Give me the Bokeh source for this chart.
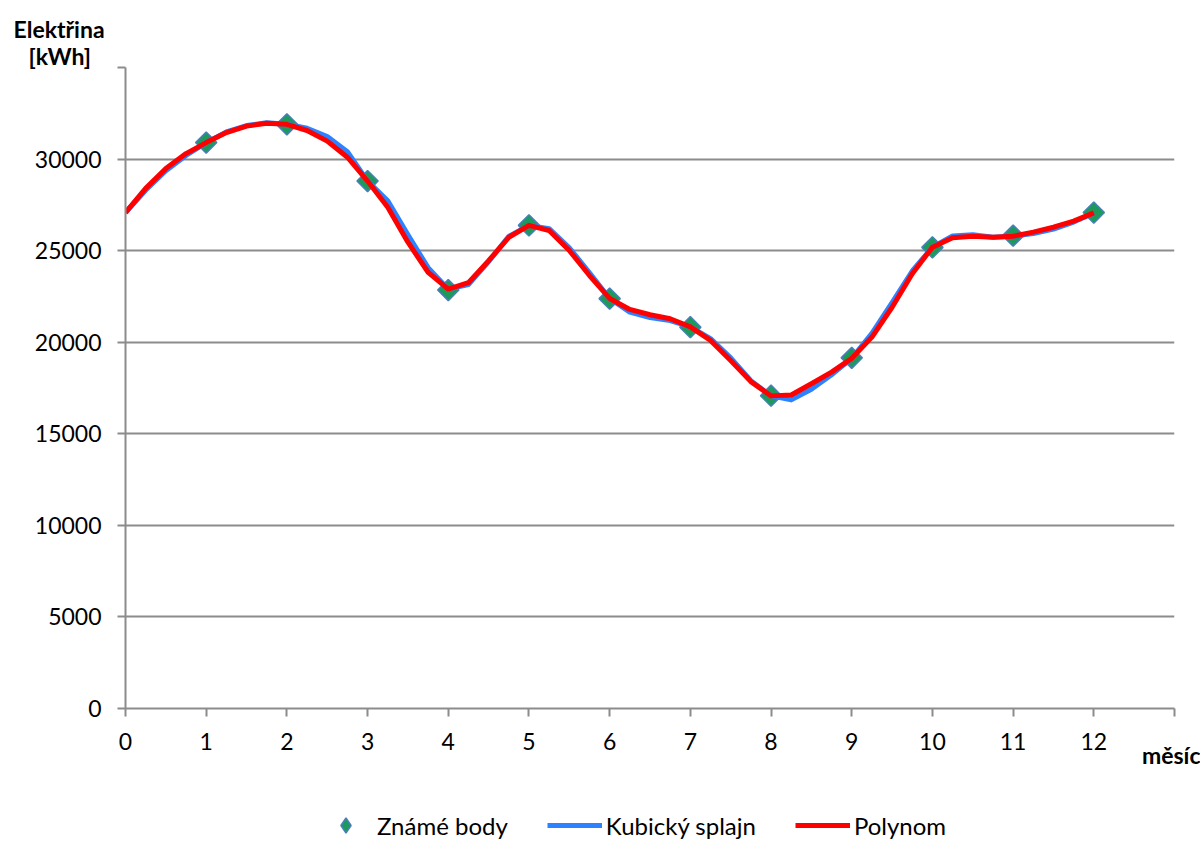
import math
from bokeh.plotting import figure
from bokeh.models import Range1d, FixedTicker, Legend, LegendItem, Title
from bokeh.layouts import column
from bokeh.embed import file_html
from bokeh.resources import INLINE

# Known points (month, kWh)
months = [1, 2, 3, 4, 5, 6, 7, 8, 9, 10, 11, 12]
known_kwh = [30900, 31900, 28800, 22850, 26380, 22380, 20820, 17080, 19150, 25180, 25820, 27080]

# Curves at quarter-month steps
curve_x = [0, 0.25, 0.5, 0.75, 1, 1.25, 1.5, 1.75, 2, 2.25, 2.5, 2.75, 3, 3.25, 3.5, 3.75,
           4, 4.25, 4.5, 4.75, 5, 5.25, 5.5, 5.75, 6, 6.25, 6.5, 6.75, 7, 7.25, 7.5, 7.75,
           8, 8.25, 8.5, 8.75, 9, 9.25, 9.5, 9.75, 10, 10.25, 10.5, 10.75, 11, 11.25, 11.5, 11.75, 12]
poly_kwh = [27080, 28400, 29480, 30300, 30900, 31450, 31800, 31960, 31900, 31560, 30980, 30100,
            28800, 27370, 25460, 23820, 22900, 23250, 24450, 25730, 26380, 26100, 25010, 23640,
            22390, 21790, 21500, 21280, 20840, 20100, 19000, 17850, 17070, 17120, 17730, 18370,
            19120, 20280, 21910, 23740, 25190, 25700, 25790, 25730, 25790, 26010, 26280, 26610, 27060]
spline_kwh = [27080, 28300, 29360, 30200, 30900, 31480, 31830, 31980, 31900, 31680, 31230, 30400,
              28800, 27720, 25860, 24070, 22900, 23150, 24400, 25780, 26380, 26200, 25160, 23790,
              22390, 21640, 21350, 21180, 20840, 20200, 19150, 17900, 17070, 16850, 17430, 18220,
              19120, 20480, 22160, 23890, 25190, 25800, 25870, 25730, 25790, 25930, 26180, 26560, 27060]

x_ticks = list(range(0, 14))
y_ticks = list(range(0, 35001, 5000))

FONT = "Lato"
GRAY = "#8c8c8c"
PT_FILL = "#1b9a5c"
PT_LINE = "#4a7ebb"
SPL_COLOR = "#2d83ff"
POL_COLOR = "#ff0000"

p = figure(width=1200, height=808, output_backend="svg", toolbar_location=None,
           x_range=Range1d(0, 13), y_range=Range1d(0, 35000),
           min_border_left=125, min_border_right=26, min_border_top=67, min_border_bottom=100)
p.outline_line_color = None
p.background_fill_color = "white"
p.border_fill_color = "white"

# grid
p.xgrid.grid_line_color = None
p.ygrid.grid_line_color = GRAY
p.ygrid.grid_line_width = 2
p.ygrid.ticker = FixedTicker(ticks=y_ticks)

# axes
for ax in (p.xaxis[0], p.yaxis[0]):
    ax.axis_line_color = GRAY
    ax.axis_line_width = 2
    ax.major_tick_line_color = GRAY
    ax.major_tick_line_width = 2
    ax.major_tick_out = 8
    ax.major_tick_in = 0
    ax.minor_tick_line_color = None
    ax.major_label_text_font = FONT
    ax.major_label_text_font_size = "23px"
    ax.major_label_text_color = "black"
p.xaxis.ticker = FixedTicker(ticks=x_ticks)
p.xaxis.major_label_overrides = {13: ""}
p.xaxis.major_label_standoff = 16
p.yaxis.ticker = FixedTicker(ticks=y_ticks)
p.yaxis.major_label_overrides = {35000: ""}
p.yaxis.major_label_standoff = 16

# glyphs
p.scatter(months, known_kwh, marker="square", size=15, angle=math.pi / 4,
          fill_color=PT_FILL, line_color=PT_LINE, line_width=1.5)
p.line(curve_x, spline_kwh, line_color=SPL_COLOR, line_width=5, line_join="round")
p.line(curve_x, poly_kwh, line_color=POL_COLOR, line_width=5, line_join="round")

# y axis title (two lines at top-left)
p.title.text = "Elektřina"
p.title.align = "left"
p.title.offset = -112
p.title.standoff = -3
p.title.text_font = FONT
p.title.text_font_style = "bold"
p.title.text_font_size = "23px"
p.title.text_color = "black"
p.add_layout(Title(text="[kWh]", align="left", offset=-97, standoff=-4, text_color="black",
                   text_font=FONT, text_font_style="bold", text_font_size="23px"), "above")

# x axis title
p.add_layout(Title(text="měsíc", align="right", offset=-26, standoff=-28, text_color="black",
                   text_font=FONT, text_font_style="bold", text_font_size="23px"), "below")

# legend strip below the chart (series drawn out of its view, only the legend shows)
lg = figure(width=1200, height=34, output_backend="svg", toolbar_location=None,
            x_range=Range1d(-3, -2), y_range=Range1d(-3, -2),
            x_axis_location=None, y_axis_location=None,
            min_border_left=0, min_border_right=0, min_border_top=0, min_border_bottom=0)
lg.outline_line_color = None
lg.grid.visible = False
lg_pts = lg.scatter(months, known_kwh, marker="diamond", size=16,
                    fill_color=PT_FILL, line_color=PT_LINE, line_width=1.5)
lg_spl = lg.line(curve_x, spline_kwh, line_color=SPL_COLOR, line_width=5)
lg_pol = lg.line(curve_x, poly_kwh, line_color=POL_COLOR, line_width=5)
legend = Legend(items=[LegendItem(label="Známé body", renderers=[lg_pts]),
                       LegendItem(label="Kubický splajn", renderers=[lg_spl]),
                       LegendItem(label="Polynom", renderers=[lg_pol])],
                orientation="horizontal", location=(193, -2),
                label_text_font=FONT, label_text_font_size="24px", label_text_color="black",
                glyph_width=55, glyph_height=38, label_standoff=4, spacing=39,
                border_line_color=None, background_fill_alpha=0, padding=0, margin=0)
lg.add_layout(legend, "center")

layout = column(p, lg, spacing=0)
open("out.html", "w").write(file_html(layout, INLINE))
